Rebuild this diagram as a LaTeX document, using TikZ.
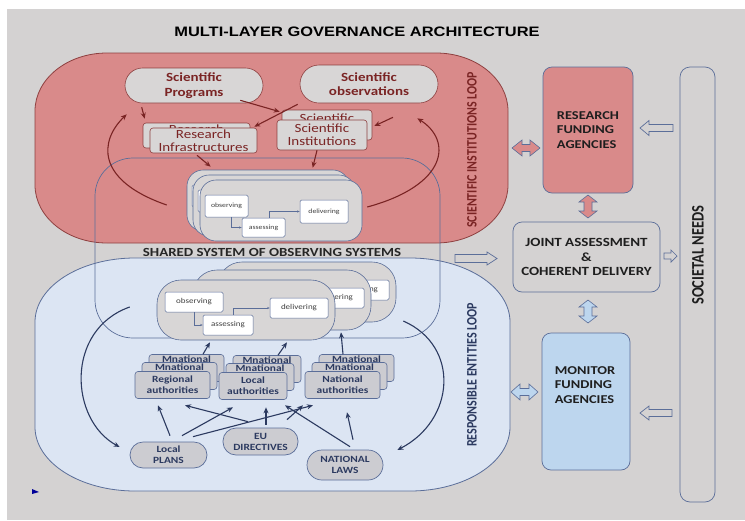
\documentclass[tikz,border=0pt]{standalone}
\usepackage{fontspec}
\setmainfont{Carlito}[FakeStretch=1.2]
\newfontfamily\rotfont{Carlito}[FakeStretch=0.83]
\newfontfamily\headfont{Liberation Sans}[FakeStretch=1.2]
\usetikzlibrary{arrows.meta}

\definecolor{bggray}{HTML}{D4D2D2}
\definecolor{loopred}{HTML}{D98A8A}
\definecolor{loopredline}{HTML}{8E4040}
\definecolor{loopblue}{HTML}{DCE5F3}
\definecolor{slate}{HTML}{5B6E99}
\definecolor{darkred}{HTML}{7A2424}
\definecolor{navy}{HTML}{2C3A60}
\definecolor{nodegray}{HTML}{D8D6D6}
\definecolor{authgray}{HTML}{CCCCD1}
\definecolor{monblue}{HTML}{BDD6EE}
\definecolor{inktext}{HTML}{1E1E1E}

\tikzset{
  sciblob/.style={draw=loopredline, fill=nodegray, line width=0.6pt, inner sep=0pt,
    text=darkred, align=center, font=\bfseries\fontsize{12.5}{14.5}\selectfont},
  sciframe/.style={draw=loopredline, fill=nodegray, rounded corners=3pt, inner sep=0pt,
    text=darkred, align=center, line width=0.6pt, font=\fontsize{12.5}{13}\selectfont},
  obsframe/.style={draw=slate, fill=nodegray, line width=0.6pt, inner sep=0pt},
  stepbox/.style={draw=slate, fill=white, rounded corners=1.5pt, inner sep=0pt,
    text=black!75, line width=0.5pt},
  stepline/.style={draw=slate, line width=0.4pt, -{Stealth[length=2.5pt,width=2pt]}},
  authbox/.style={draw=slate, fill=authgray, rounded corners=3pt, inner sep=0pt,
    text=navy, align=center, line width=0.6pt, font=\bfseries\fontsize{9.5}{11}\selectfont},
  authlbl/.style={inner sep=0pt, text=navy, font=\bfseries\fontsize{9.5}{11}\selectfont},
  lawblob/.style={draw=slate, fill=authgray, inner sep=0pt, rounded corners=13pt,
    text=navy, align=center, line width=0.7pt, font=\bfseries\fontsize{9.5}{11}\selectfont},
  redarr/.style={draw=darkred, line width=1.1pt, -{Stealth[length=6pt,width=5pt]}},
  bluearr/.style={draw=navy, line width=1.1pt, -{Stealth[length=6pt,width=5pt]}},
  agency/.style={draw=slate, rounded corners=9pt, line width=0.7pt, inner sep=0pt,
    text=inktext, font=\bfseries\fontsize{12}{14.5}\selectfont},
  blockred/.style={fill=loopred, draw=slate, line width=0.6pt},
  blockblue/.style={fill=monblue, draw=slate, line width=0.6pt},
  hollow/.style={fill=bggray, draw=slate, line width=0.7pt},
}

% rounded frame with elliptical corners: style, x1, y1, x2, y2, rx, ry
\newcommand\govloop[7]{%
  \path[#1] (#2,{#3+#7})
    .. controls (#2,{#3+0.448*#7}) and ({#2+0.448*#6},#3) .. ({#2+#6},#3)
    -- ({#4-#6},#3)
    .. controls ({#4-0.448*#6},#3) and (#4,{#3+0.448*#7}) .. (#4,{#3+#7})
    -- (#4,{#5-#7})
    .. controls (#4,{#5-0.448*#7}) and ({#4-0.448*#6},#5) .. ({#4-#6},#5)
    -- ({#2+#6},#5)
    .. controls ({#2+0.448*#6},#5) and (#2,{#5-0.448*#7}) .. (#2,{#5-#7})
    -- cycle;}

% horizontal block arrow: style, tail x, tip x, y, half shaft, half head, signed head length
\newcommand\hblock[7]{%
  \path[#1] (#2,{#4-#5}) -- ({#3-(#7)},{#4-#5}) -- ({#3-(#7)},{#4-#6}) -- (#3,#4)
    -- ({#3-(#7)},{#4+#6}) -- ({#3-(#7)},{#4+#5}) -- (#2,{#4+#5}) -- cycle;}
% horizontal double block arrow: style, x1, x2, y, half shaft, half head, head length
\newcommand\hdouble[7]{%
  \path[#1] (#2,#4) -- ({#2+#7},{#4-#6}) -- ({#2+#7},{#4-#5}) -- ({#3-#7},{#4-#5})
    -- ({#3-#7},{#4-#6}) -- (#3,#4) -- ({#3-#7},{#4+#6}) -- ({#3-#7},{#4+#5})
    -- ({#2+#7},{#4+#5}) -- ({#2+#7},{#4+#6}) -- cycle;}
% vertical double block arrow: style, y1, y2, x, half shaft, half head, head length
\newcommand\vdouble[7]{%
  \path[#1] (#4,#2) -- ({#4+#6},{#2+#7}) -- ({#4+#5},{#2+#7}) -- ({#4+#5},{#3-#7})
    -- ({#4+#6},{#3-#7}) -- (#4,#3) -- ({#4-#6},{#3-#7}) -- ({#4-#5},{#3-#7})
    -- ({#4-#5},{#2+#7}) -- ({#4-#6},{#2+#7}) -- cycle;}

% one observing system of the scientific loop: name, dx, dy
\newcommand\toplayer[3]{%
  \begin{scope}[shift={(#2,#3)}]
    \node[obsframe, rounded corners=16pt, minimum width=162pt, minimum height=61pt] (#1) at (281,210.5) {};
    \node[stepbox, font=\fontsize{6.5}{7}\selectfont, minimum width=43pt, minimum height=22pt] (#1obs) at (226.5,206) {observing};
    \node[stepbox, font=\fontsize{6.5}{7}\selectfont, minimum width=43pt, minimum height=19pt] (#1ass) at (263.5,227.5) {assessing};
    \node[stepbox, font=\fontsize{6.5}{7}\selectfont, minimum width=48pt, minimum height=23pt] (#1del) at (324,211.5) {delivering};
    \draw[stepline] ([xshift=5pt]#1obs.south) |- (#1ass.west);
    \draw[stepline] ([xshift=6pt]#1ass.north) |- (#1del.west);
  \end{scope}}

% one observing system of the responsible-entities loop: name, dx, dy
\newcommand\botlayer[3]{%
  \begin{scope}[shift={(#2,#3)}]
    \node[obsframe, rounded corners=24pt, minimum width=178pt, minimum height=60pt] (#1) at (246,310) {};
    \node[stepbox, font=\fontsize{7.5}{8}\selectfont, minimum width=58pt, minimum height=20pt] (#1obs) at (194,302) {observing};
    \node[stepbox, font=\fontsize{7.5}{8}\selectfont, minimum width=50pt, minimum height=20pt] (#1ass) at (228,325) {assessing};
    \node[stepbox, font=\fontsize{7.5}{8}\selectfont, minimum width=58pt, minimum height=20pt] (#1del) at (299,308) {delivering};
    \draw[stepline] (#1obs.south) |- (#1ass.west);
    \draw[stepline] ([xshift=5pt]#1ass.north) |- (#1del.west);
  \end{scope}}

% stack of three authority cards: name, cx, cy, width, text
\newcommand\authstack[5]{%
  \node[authbox, minimum width=#4pt, minimum height=27pt] (#1B) at ({#2+14},{#3-17}) {};
  \node[authlbl, anchor=north] (#1Bt) at ([yshift=-1.5pt]#1B.north) {Mnational};
  \node[authbox, minimum width=#4pt, minimum height=27pt] (#1M) at ({#2+7},{#3-9}) {};
  \node[authlbl, anchor=north] (#1Mt) at ([yshift=-1.5pt]#1M.north) {Mnational};
  \node[authbox, minimum width=#4pt, minimum height=27pt] (#1F) at (#2,#3) {#5};}

\begin{document}
\begin{tikzpicture}[x=1pt,y=-1pt]
\useasboundingbox (0,0) rectangle (745,520);
\fill[white] (0,0) rectangle (745,520);
\fill[bggray] (7,9) rectangle (745,520);

\node[font=\headfont\bfseries\fontsize{13.7}{16}\selectfont, text=black] (title) at (357,32)
  {MULTI-LAYER GOVERNANCE ARCHITECTURE};

% the two loops
\govloop{fill=loopred, draw=loopredline, line width=0.8pt}{35}{53}{508}{243}{72}{58}
\govloop{fill=loopblue, draw=slate, line width=0.8pt}{35}{258}{510}{491}{100}{64}

% shared system frame
\node[draw=slate, line width=0.7pt, rounded corners=38pt, minimum width=345pt,
  minimum height=180pt, inner sep=0pt] (shared) at (267.5,248) {};
\node[font=\bfseries\fontsize{12.4}{14}\selectfont, text=black!85] (sharedlbl) at (272,252)
  {SHARED SYSTEM OF OBSERVING SYSTEMS};

% scientific institutions loop
\node[sciblob, rounded corners=17.5pt, minimum width=138pt, minimum height=35pt] (sprog) at (194,85.5) {Scientific\\Programs};
\node[sciblob, rounded corners=19pt, minimum width=138pt, minimum height=38pt] (sobs) at (369,84) {Scientific\\observations};
\node[sciframe, minimum width=107pt, minimum height=25pt] (rinfb) at (196.5,135.5) {Research\\Infrastructures};
\node[sciframe, minimum width=107pt, minimum height=25pt] (rinf) at (203.5,140.5) {Research\\Infrastructures};
\node[sciframe, minimum width=90pt, minimum height=30pt] (sinsb) at (327,125) {Scientific\\Institutions};
\node[sciframe, minimum width=90pt, minimum height=30pt] (sins) at (322,135) {Scientific\\Institutions};

\toplayer{tB}{-13}{-10}
\toplayer{tM}{-7}{-5}
\toplayer{tF}{0}{0}

\draw[redarr] ([xshift=17pt,yshift=-4pt]sprog.south west) -- ([xshift=2pt,yshift=4pt]rinfb.north west);
\draw[redarr] ([xshift=-23pt,yshift=3pt]sprog.south east) -- ([xshift=-2pt,yshift=-2pt]sinsb.north west);
\draw[redarr] ([xshift=-2pt,yshift=-1pt]sobs.south west) -- ([xshift=-3pt,yshift=1pt]rinf.north east);
\draw[redarr] ([xshift=24pt,yshift=-14pt]sobs.south) -- ([xshift=2pt,yshift=-1pt]sinsb.east);
\draw[redarr] ([xshift=-6.5pt,yshift=-2pt]rinf.south) -- ([xshift=24pt,yshift=3pt]tB.north west);
\draw[redarr] ([xshift=-5pt]sins.south) -- ([xshift=126pt,yshift=2pt]tB.north west);
\draw[redarr] ([xshift=-20pt,yshift=-4.5pt]tB.west) .. controls +(-72,-25) and +(-27,26) .. ([xshift=2pt,yshift=-11pt]sprog.south west);
\draw[redarr] ([xshift=5pt,yshift=3.5pt]tF.east) .. controls +(81,-22) and +(35,22) .. ([xshift=-21pt,yshift=-15pt]sobs.south east);

\node[rotate=90, text=darkred, font=\rotfont\bfseries\fontsize{14.4}{16}\selectfont] (scilbl) at (472,150) {SCIENTIFIC INSTITUTIONS LOOP};

% responsible entities loop
\botlayer{bB}{61}{-18}
\botlayer{bM}{36}{-10}
\botlayer{bF}{0}{0}

\authstack{reg}{172.5}{385}{75}{Regional\\authorities}
\authstack{loc}{253}{386}{68}{Local\\authorities}
\authstack{nat}{342.5}{385}{75}{National\\authorities}

\node[lawblob, minimum width=77pt, minimum height=26pt] (lp) at (168.5,455) {Local\\PLANS};
\node[lawblob, minimum width=75pt, minimum height=27pt] (eu) at (260.5,441.5) {EU\\DIRECTIVES};
\node[lawblob, rounded corners=15pt, minimum width=76pt, minimum height=30pt] (nl) at (345,465) {NATIONAL\\LAWS};

\draw[bluearr] ([xshift=1.5pt,yshift=6pt]lp.north) -- ([xshift=-14.5pt,yshift=-6.5pt]regF.south);
\draw[bluearr] ([xshift=13.5pt,yshift=6pt]lp.north) -- ([xshift=-20pt,yshift=-7.5pt]locF.south);
\draw[bluearr] ([xshift=24.5pt,yshift=5pt]lp.north) -- ([xshift=-29.5pt,yshift=-6.5pt]natF.south);
\draw[bluearr] ([xshift=-12.5pt,yshift=6pt]eu.north) -- ([xshift=12.5pt,yshift=-6.5pt]regF.south);
\draw[bluearr] ([xshift=5.5pt,yshift=3pt]eu.north) -- ([xshift=13pt,yshift=-7.5pt]locF.south);
\draw[bluearr] ([xshift=26.5pt,yshift=8pt]eu.north) -- ([xshift=-39.5pt,yshift=-6.5pt]natF.south);
\draw[bluearr] ([xshift=5pt,yshift=3pt]nl.north) -- ([xshift=32pt,yshift=-5.5pt]locF.south);
\draw[bluearr] ([xshift=8pt,yshift=10pt]nl.north) -- ([xshift=4.5pt,yshift=-13.5pt]natF.south);

\draw[bluearr] ([xshift=16.5pt]regB.north) -- ([xshift=-36pt,yshift=-2pt]bF.south);
\draw[bluearr] ([xshift=11pt]locB.north) -- ([xshift=41pt,yshift=-2pt]bF.south);
\draw[bluearr] ([xshift=-13.5pt]natB.north) -- ([xshift=59pt,yshift=-2pt]bM.south);

\draw[bluearr] ([xshift=-27pt,yshift=3pt]bF.west) .. controls +(-65,23) and +(-50,-27) .. ([xshift=-10pt,yshift=8pt]lp.west);
\draw[bluearr] ([xshift=7pt,yshift=-29pt]bB.east) .. controls +(57,25) and +(58,-30) .. ([xshift=14pt,yshift=15pt]nl.east);

\node[rotate=90, text=navy, font=\rotfont\bfseries\fontsize{14.5}{16}\selectfont] (reslbl) at (472,375) {RESPONSIBLE ENTITIES LOOP};

% agencies and societal needs
\node[agency, fill=loopred, minimum width=90pt, minimum height=126pt, align=left] (rfa) at (588,130) {RESEARCH\\FUNDING\\AGENCIES};
\node[agency, fill=bggray, minimum width=147pt, minimum height=70pt, align=center, font=\bfseries\fontsize{12.5}{14.5}\selectfont] (joint) at (586.5,257) {JOINT ASSESSMENT\\\&\\COHERENT DELIVERY};
\node[agency, fill=monblue, minimum width=88pt, minimum height=137pt] (mon) at (586,401.5) {};
\node[align=left, inner sep=0pt, text=inktext, font=\bfseries\fontsize{12}{14.5}\selectfont] (monlbl) at (585,385) {MONITOR\\FUNDING\\AGENCIES};
\node[draw=slate, fill=bggray, rounded corners=10pt, line width=0.7pt, minimum width=35pt, minimum height=435pt, inner sep=0pt] (soc) at (697.5,284.5) {};
\node[rotate=90, text=inktext, font=\rotfont\bfseries\fontsize{17.5}{19}\selectfont] (soclbl) at (698,255) {SOCIETAL NEEDS};

\hdouble{blockred}{512}{540}{148}{3.5}{8}{10}
\vdouble{blockred}{195}{218}{588}{4}{9}{7}
\hblock{hollow}{455}{497}{258.5}{4}{6.5}{10}
\hblock{hollow}{664}{677}{256}{3}{6}{6}
\vdouble{blockblue}{300}{323}{588}{4}{9}{7}
\hdouble{blockblue}{511}{538}{392}{3.5}{8}{9}
\hblock{hollow}{673}{640}{128}{3.5}{7.5}{-9}
\hblock{hollow}{672}{640}{413}{3.5}{7}{-9}

\fill[blue!60!black] (32,489) -- (39,492) -- (32,494) -- cycle;
\end{tikzpicture}
\end{document}
